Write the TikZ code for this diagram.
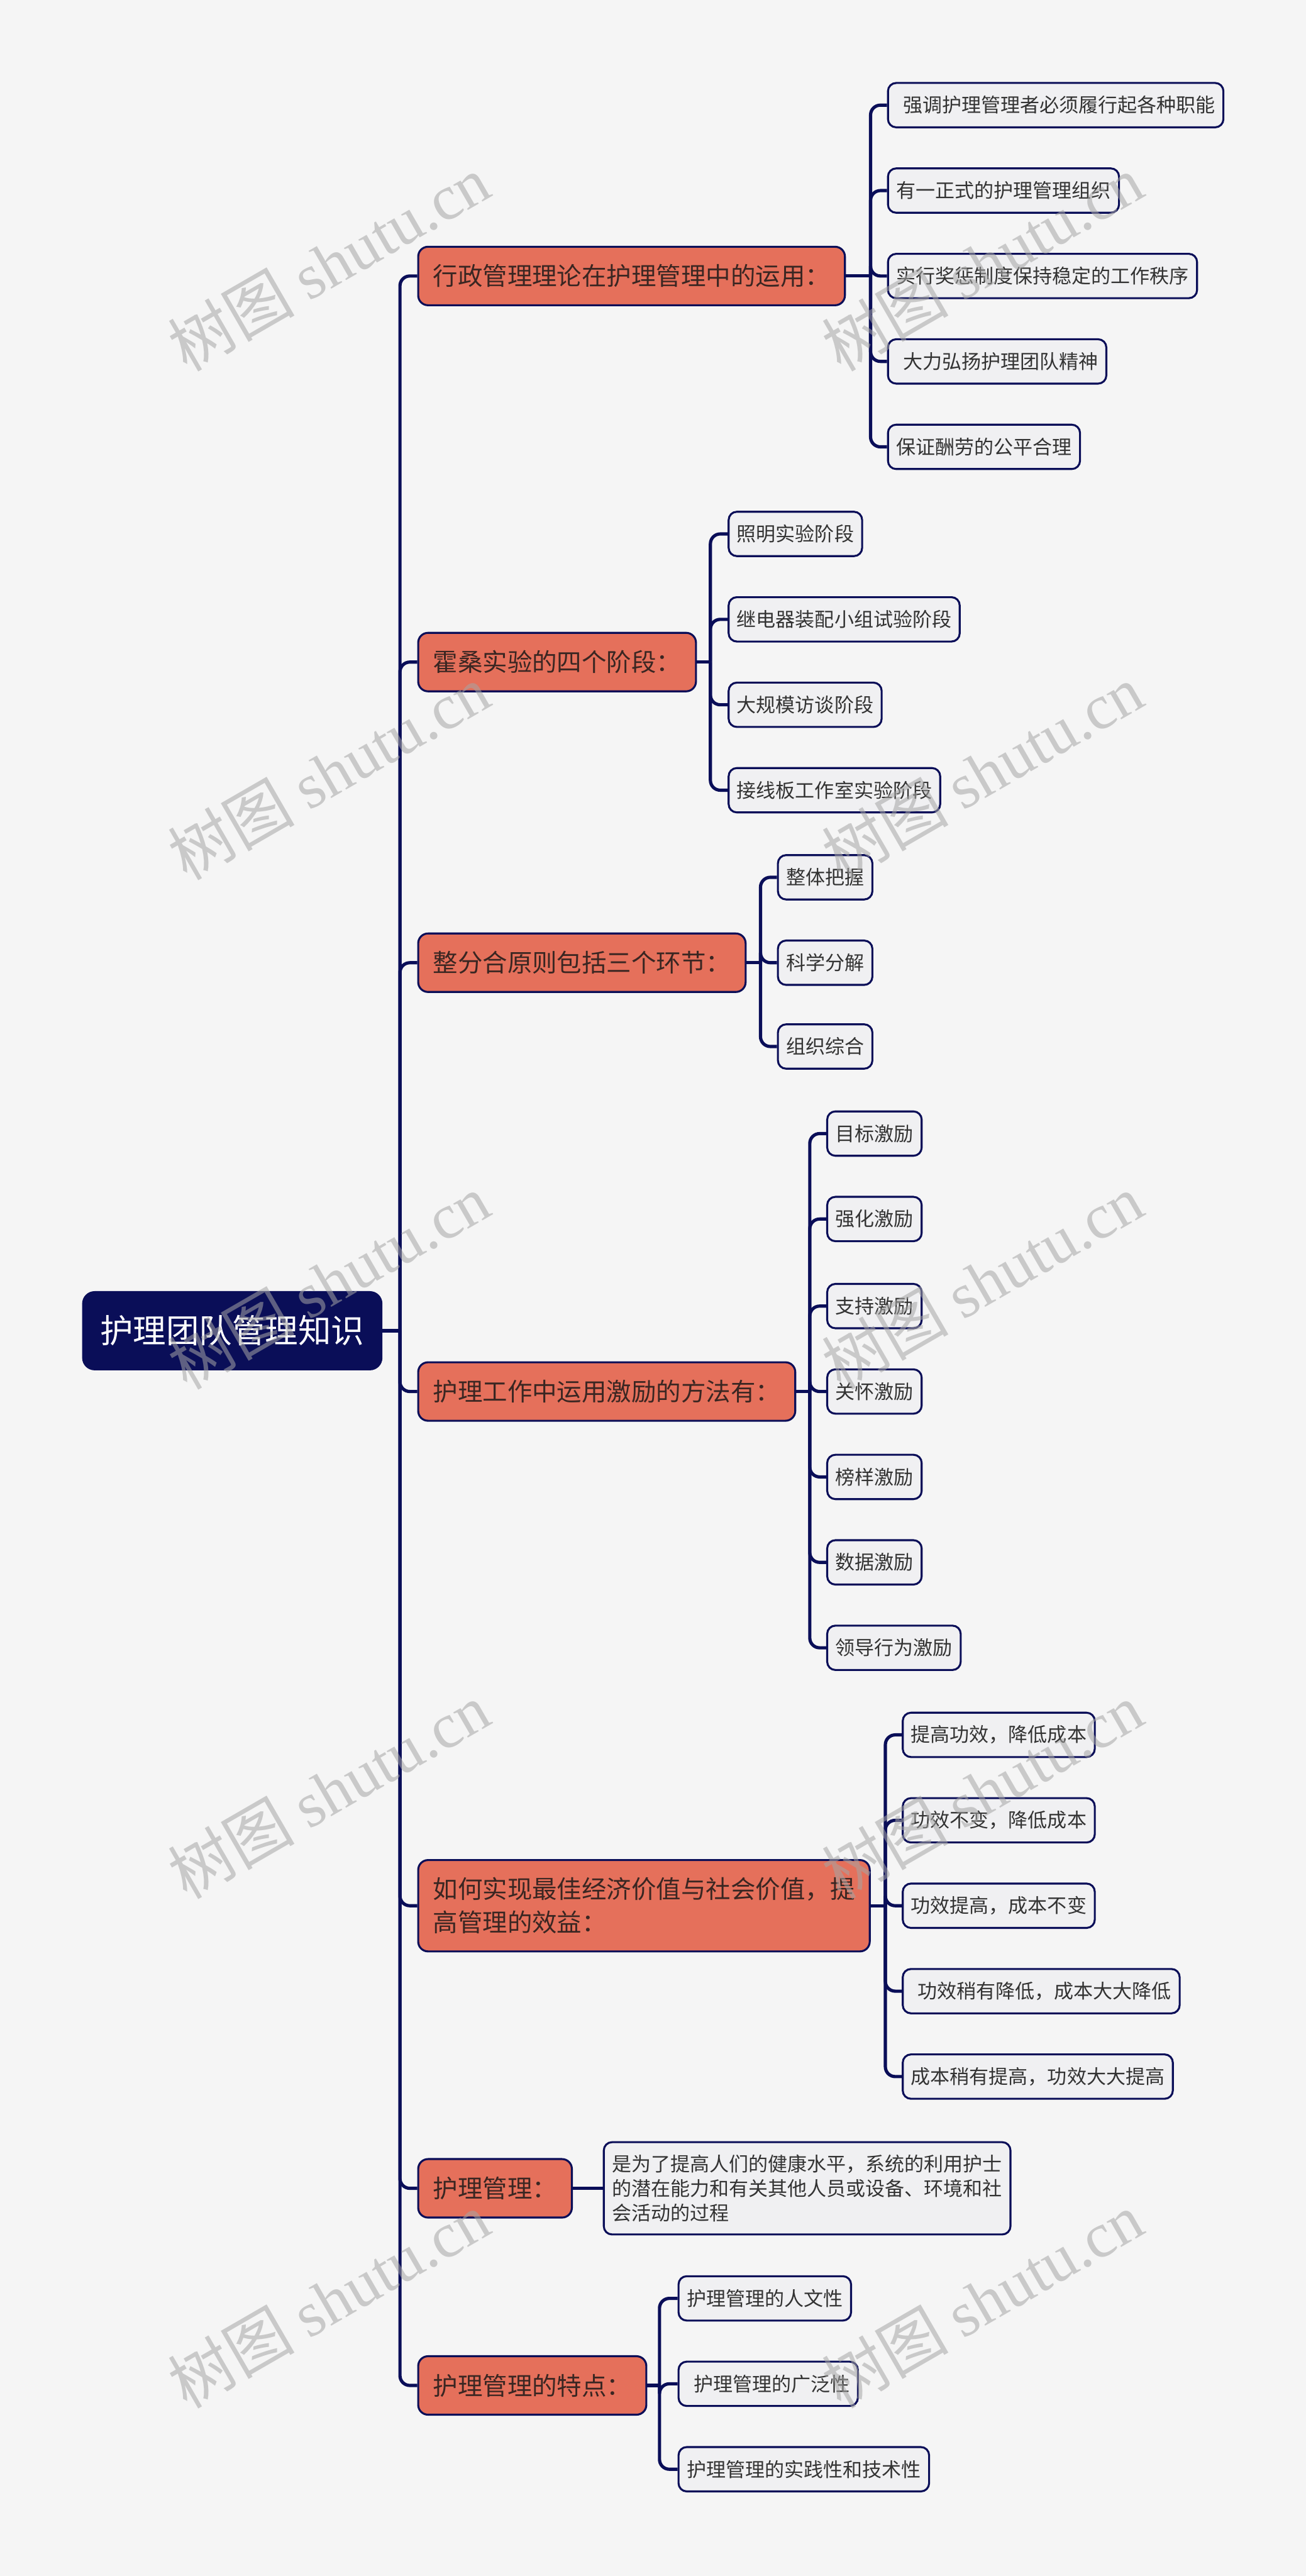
\documentclass[tikz,border=0pt]{standalone}
\usepackage{fontspec}
\setmainfont{Noto Sans CJK SC}
\newfontfamily\wmlat{Liberation Serif}
\usetikzlibrary{calc}
\definecolor{bg}{HTML}{F5F5F5}
\definecolor{navy}{HTML}{0A0E58}
\definecolor{salmon}{HTML}{E5705B}
\definecolor{salmontext}{HTML}{3A2622}
\definecolor{leaffill}{HTML}{F0F0F2}
\definecolor{leaftext}{HTML}{333333}
\definecolor{wmgray}{HTML}{A5A5A5}
\tikzset{
  rootbox/.style={draw=navy, line width=1.7pt, fill=navy, text=white, rounded corners=0.35cm,
    font=\fontsize{28.6}{34}\selectfont, inner xsep=0.52cm, inner ysep=0pt, minimum height=2.35cm, anchor=west},
  mainbox/.style={draw=navy, line width=1.7pt, fill=salmon, text=salmontext, rounded corners=0.3cm,
    font=\fontsize{21.5}{28.7}\selectfont, inner xsep=0.45cm, inner ysep=0pt, minimum height=1.78cm, anchor=west, align=left},
  leafbox/.style={draw=navy, line width=1.7pt, fill=leaffill, text=leaftext, rounded corners=0.25cm,
    font=\fontsize{16.9}{21.3}\selectfont, inner xsep=0.25cm, inner ysep=0pt, minimum height=1.35cm, anchor=west, align=left},
  conn/.style={draw=navy, line width=2.8pt, rounded corners=0.3cm},
  wmark/.style={text=wmgray, opacity=0.55, rotate=30, font=\fontsize{55}{60}\selectfont}
}
\begin{document}
\begin{tikzpicture}[x=0.05cm,y=-0.05cm]
\fill[bg] (0,0) rectangle (795,1568);
\useasboundingbox (0,0) rectangle (795,1568);

% root
\node[rootbox] (root) at (50,810) {护理团队管理知识};

% main branches
\node[mainbox] (m1) at (254,168) {行政管理理论在护理管理中的运用：};
\node[mainbox] (m2) at (254,403) {霍桑实验的四个阶段：};
\node[mainbox] (m3) at (254,586) {整分合原则包括三个环节：};
\node[mainbox] (m4) at (254,847) {护理工作中运用激励的方法有：};
\node[mainbox, minimum height=2.78cm] (m5) at (254,1160) {如何实现最佳经济价值与社会价值，提\\高管理的效益：};
\node[mainbox] (m6) at (254,1332) {护理管理：};
\node[mainbox] (m7) at (254,1452) {护理管理的特点：};

% branch 1
\node[leafbox] (l11) at (540,64) {\hspace*{0.35em}强调护理管理者必须履行起各种职能};
\node[leafbox] (l12) at (540,116) {有一正式的护理管理组织};
\node[leafbox] (l13) at (540,168) {实行奖惩制度保持稳定的工作秩序};
\node[leafbox] (l14) at (540,220) {\hspace*{0.35em}大力弘扬护理团队精神};
\node[leafbox] (l15) at (540,272) {保证酬劳的公平合理};
% branch 2
\node[leafbox] (l21) at (443,325) {照明实验阶段};
\node[leafbox] (l22) at (443,377) {继电器装配小组试验阶段};
\node[leafbox] (l23) at (443,429) {大规模访谈阶段};
\node[leafbox] (l24) at (443,481) {接线板工作室实验阶段};
% branch 3
\node[leafbox] (l31) at (473,534) {整体把握};
\node[leafbox] (l32) at (473,586) {科学分解};
\node[leafbox] (l33) at (473,637) {组织综合};
% branch 4
\node[leafbox] (l41) at (503,690) {目标激励};
\node[leafbox] (l42) at (503,742) {强化激励};
\node[leafbox] (l43) at (503,795) {支持激励};
\node[leafbox] (l44) at (503,847) {关怀激励};
\node[leafbox] (l45) at (503,899) {榜样激励};
\node[leafbox] (l46) at (503,951) {数据激励};
\node[leafbox] (l47) at (503,1003) {领导行为激励};
% branch 5
\node[leafbox] (l51) at (549,1056) {提高功效，降低成本};
\node[leafbox] (l52) at (549,1108) {功效不变，降低成本};
\node[leafbox] (l53) at (549,1160) {功效提高，成本不变};
\node[leafbox] (l54) at (549,1212) {\hspace*{0.35em}功效稍有降低，成本大大降低};
\node[leafbox] (l55) at (549,1264) {成本稍有提高，功效大大提高};
% branch 6
\node[leafbox, inner ysep=0.38cm] (l61) at (367,1332) {是为了提高人们的健康水平，系统的利用护士\\的潜在能力和有关其他人员或设备、环境和社\\会活动的过程};
% branch 7
\node[leafbox] (l71) at (412.5,1399) {护理管理的人文性};
\node[leafbox] (l72) at (412.5,1451) {\hspace*{0.35em}护理管理的广泛性};
\node[leafbox] (l73) at (412.5,1503) {护理管理的实践性和技术性};

% bus coordinates
\coordinate (b0) at (243.5,810);
\coordinate (b1) at (530,168);
\coordinate (b2) at (432.5,403);
\coordinate (b3) at (463,586);
\coordinate (b4) at (493,847);
\coordinate (b5) at (539,1160);
\coordinate (b7) at (401.5,1452);

% trunk
\draw[conn] (root.east) -- (b0);
\foreach \m in {m1,m2,m3,m4,m5,m6,m7} { \draw[conn] (b0) |- (\m.west); }

% branch connectors
\draw[conn] (m1.east) -- (b1);
\foreach \c in {l11,l12,l13,l14,l15} { \draw[conn] (b1) |- (\c.west); }
\draw[conn] (m2.east) -- (b2);
\foreach \c in {l21,l22,l23,l24} { \draw[conn] (b2) |- (\c.west); }
\draw[conn] (m3.east) -- (b3);
\foreach \c in {l31,l32,l33} { \draw[conn] (b3) |- (\c.west); }
\draw[conn] (m4.east) -- (b4);
\foreach \c in {l41,l42,l43,l44,l45,l46,l47} { \draw[conn] (b4) |- (\c.west); }
\draw[conn] (m5.east) -- (b5);
\foreach \c in {l51,l52,l53,l54,l55} { \draw[conn] (b5) |- (\c.west); }
\draw[conn] (m6.east) -- (l61.west);
\draw[conn] (m7.east) -- (b7);
\foreach \c in {l71,l72,l73} { \draw[conn] (b7) |- (\c.west); }

% watermarks
\foreach \yy [count=\i] in {160,470,780,1090,1400} {
  \node[wmark, name=wl\i] at (200,\yy) {树图 {\wmlat shutu.cn}};
  \node[wmark, name=wr\i] at (598,\yy) {树图 {\wmlat shutu.cn}};
}
\end{tikzpicture}
\end{document}
